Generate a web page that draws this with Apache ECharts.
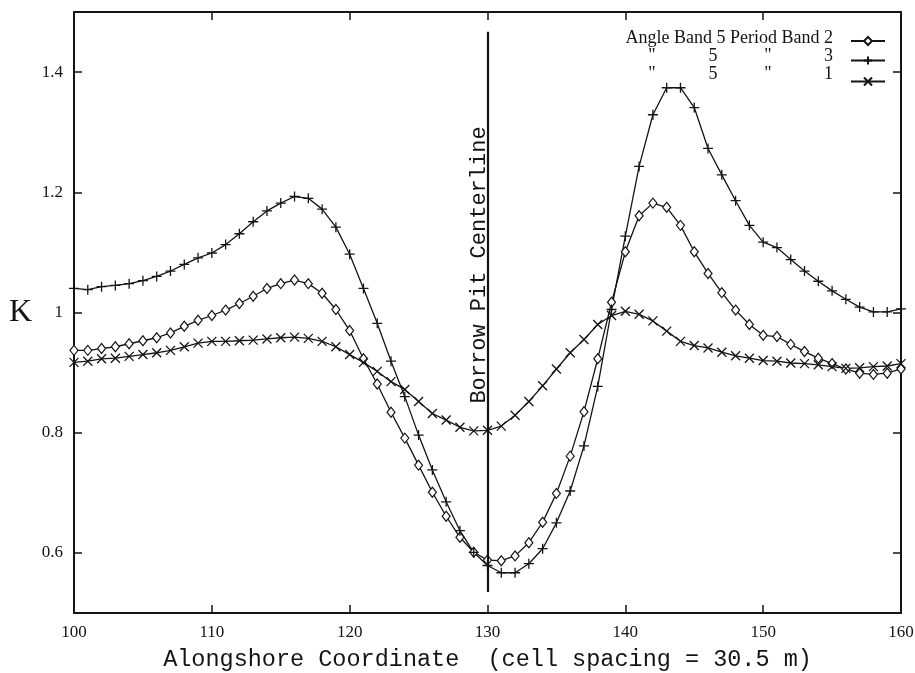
<!DOCTYPE html>
<html>
<head>
<meta charset="utf-8">
<script src="https://cdn.jsdelivr.net/npm/echarts@6/dist/echarts.min.js"></script>
<style>html,body{margin:0;padding:0;background:#fff}#c{width:915px;height:673px}</style>
</head>
<body>
<div id="c"></div>
<script>
const xValues = [100,101,102,103,104,105,106,107,108,109,110,111,112,113,114,115,116,117,118,119,120,121,122,123,124,125,126,127,128,129,130,131,132,133,134,135,136,137,138,139,140,141,142,143,144,145,146,147,148,149,150,151,152,153,154,155,156,157,158,159,160];
const periodBand2 = [0.937,0.937,0.940,0.943,0.948,0.953,0.958,0.966,0.977,0.987,0.995,1.004,1.015,1.027,1.040,1.048,1.054,1.048,1.032,1.005,0.970,0.923,0.881,0.834,0.791,0.746,0.701,0.661,0.626,0.601,0.588,0.587,0.595,0.617,0.651,0.699,0.761,0.835,0.923,1.017,1.101,1.161,1.182,1.175,1.145,1.101,1.065,1.033,1.004,0.980,0.962,0.960,0.947,0.935,0.924,0.915,0.906,0.899,0.897,0.899,0.906];
const periodBand3 = [1.040,1.038,1.043,1.045,1.048,1.053,1.060,1.069,1.080,1.091,1.099,1.113,1.131,1.151,1.169,1.182,1.193,1.190,1.172,1.142,1.097,1.040,0.982,0.919,0.860,0.796,0.738,0.685,0.637,0.601,0.579,0.567,0.567,0.582,0.607,0.650,0.703,0.778,0.877,1.005,1.127,1.243,1.329,1.374,1.374,1.341,1.273,1.229,1.186,1.145,1.117,1.108,1.088,1.069,1.052,1.036,1.022,1.009,1.001,1.001,1.006];
const periodBand1 = [0.917,0.919,0.923,0.924,0.927,0.930,0.933,0.937,0.943,0.949,0.952,0.952,0.953,0.954,0.956,0.958,0.959,0.957,0.952,0.943,0.930,0.917,0.902,0.885,0.872,0.852,0.832,0.821,0.809,0.803,0.804,0.811,0.829,0.852,0.878,0.906,0.933,0.955,0.980,0.995,1.002,0.997,0.986,0.969,0.952,0.945,0.941,0.934,0.928,0.924,0.920,0.919,0.916,0.915,0.913,0.910,0.907,0.908,0.910,0.911,0.915];
const yTicks = [0.6, 0.8, 1, 1.2, 1.4];
const seriesNames = ['Angle Band 5 Period Band 2', 'Angle Band 5 Period Band 3', 'Angle Band 5 Period Band 1'];
const centerline = {x: 130, y0: 0.535, y1: 1.467, label: 'Borrow Pit Centerline'};

const INK = '#141414';
function pairs(ys){ return xValues.map((x,i)=>[x, ys[i]]); }
const plusPath = 'path://M0,-10L0,10M-10,0L10,0';
const crossPath = 'path://M-10,-10L10,10M-10,10L10,-10';

const chart = echarts.init(document.getElementById('c'), null, {renderer:'canvas'});
const axisLine = {show:true, lineStyle:{color:INK, width:2}};
const labelFont = {fontFamily:'Liberation Serif', fontSize:17, color:INK};
const monoFont = 'Liberation Mono';

function lineSeries(name, ys, symbol, size, extra){
  return Object.assign({
    name, type:'line', data:pairs(ys), symbol, symbolSize:size, showSymbol:true,
    lineStyle:{color:INK, width:1.3}, itemStyle:{color:'#fff', borderColor:INK, borderWidth:1.2},
    emphasis:{disabled:true}, animation:false, z:3
  }, extra||{});
}

const option = {
  backgroundColor:'#fff',
  animation:false,
  grid:{left:74, right:14, top:12, bottom:60, containLabel:false, outerBoundsMode:'none'},
  xAxis:[{
    type:'value', min:100, max:160, interval:10, position:'bottom',
    axisLine, splitLine:{show:false},
    axisTick:{show:true, inside:true, length:8, lineStyle:{color:INK, width:1.5}},
    axisLabel:Object.assign({margin:11, showMinLabel:true, showMaxLabel:true}, labelFont),
    name:'Alongshore Coordinate  (cell spacing = 30.5 m)', nameLocation:'middle', nameGap:35,
    nameTextStyle:{fontFamily:monoFont, fontSize:23.5, color:INK}
  },{
    type:'value', min:100, max:160, interval:10, position:'top',
    axisLine, splitLine:{show:false},
    axisTick:{show:true, inside:true, length:8, lineStyle:{color:INK, width:1.5}},
    axisLabel:{show:false}
  }],
  yAxis:[{
    type:'value', min:0.5, max:1.5, position:'left',
    axisLine, splitLine:{show:false},
    axisTick:{show:true, inside:true, length:8, customValues:yTicks, lineStyle:{color:INK, width:1.5}},
    axisLabel:Object.assign({margin:11, customValues:yTicks, formatter:v=>String(+(+v).toFixed(1))}, labelFont),
    name:'K', nameLocation:'middle', nameRotate:0, nameGap:42,
    nameTextStyle:{fontFamily:'Liberation Serif', fontSize:32, color:INK}
  },{
    type:'value', min:0.5, max:1.5, position:'right',
    axisLine, splitLine:{show:false},
    axisTick:{show:true, inside:true, length:8, customValues:yTicks, lineStyle:{color:INK, width:1.5}},
    axisLabel:{show:false}
  }],
  legend:{
    orient:'vertical', left:845, top:31, itemWidth:34, itemHeight:10, itemGap:8,
    formatter:()=>'', textStyle:{fontSize:10}, selectedMode:false,
    data:seriesNames
  },
  series:[
    lineSeries(seriesNames[0], periodBand2, 'diamond', [8,10], {
      markLine:{
        silent:true, symbol:['none','none'], animation:false,
        lineStyle:{color:INK, width:2.2, type:'solid'}, label:{show:false},
        data:[[{coord:[centerline.x, centerline.y0]},{coord:[centerline.x, centerline.y1]}]]
      }
    }),
    lineSeries(seriesNames[1], periodBand3, plusPath, 10, {itemStyle:{color:'none', borderColor:INK, borderWidth:1.3}}),
    lineSeries(seriesNames[2], periodBand1, crossPath, 9, {itemStyle:{color:'none', borderColor:INK, borderWidth:1.3}})
  ],
  graphic:[
    {type:'text', x:479, y:265, rotation:Math.PI/2, style:{text:centerline.label, font:'22px "Liberation Mono"', fill:INK, align:'center', verticalAlign:'middle'}, z:10},
    {type:'text', x:833, y:38, style:{text:'Angle Band 5 Period Band 2', font:'18px "Liberation Serif"', fill:INK, align:'right', verticalAlign:'middle'}},
    {type:'text', x:652, y:56, style:{text:'"', font:'18px "Liberation Serif"', fill:INK, align:'center', verticalAlign:'middle'}},
    {type:'text', x:713, y:56, style:{text:'5', font:'18px "Liberation Serif"', fill:INK, align:'center', verticalAlign:'middle'}},
    {type:'text', x:768, y:56, style:{text:'"', font:'18px "Liberation Serif"', fill:INK, align:'center', verticalAlign:'middle'}},
    {type:'text', x:833, y:56, style:{text:'3', font:'18px "Liberation Serif"', fill:INK, align:'right', verticalAlign:'middle'}},
    {type:'text', x:652, y:74, style:{text:'"', font:'18px "Liberation Serif"', fill:INK, align:'center', verticalAlign:'middle'}},
    {type:'text', x:713, y:74, style:{text:'5', font:'18px "Liberation Serif"', fill:INK, align:'center', verticalAlign:'middle'}},
    {type:'text', x:768, y:74, style:{text:'"', font:'18px "Liberation Serif"', fill:INK, align:'center', verticalAlign:'middle'}},
    {type:'text', x:833, y:74, style:{text:'1', font:'18px "Liberation Serif"', fill:INK, align:'right', verticalAlign:'middle'}}
  ]
};
chart.setOption(option);
</script>
</body>
</html>
